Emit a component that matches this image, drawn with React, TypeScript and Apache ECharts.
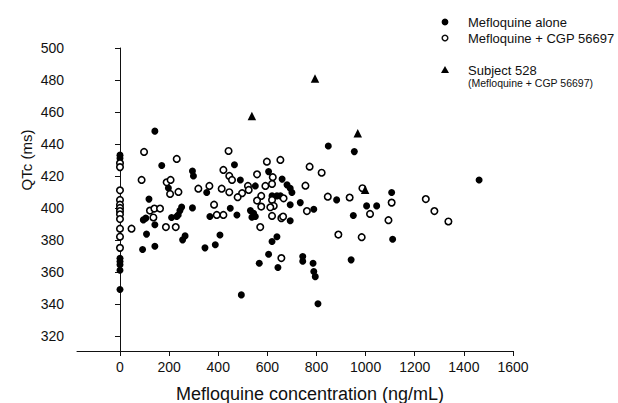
import React, { useEffect, useRef } from "react";
import * as echarts from "echarts";

const xTicks = [0, 200, 400, 600, 800, 1000, 1200, 1400, 1600];
const yTicks = [320, 340, 360, 380, 400, 420, 440, 460, 480, 500];

const mefloquineAlone: [number, number][] = [
  [0, 433], [0, 431], [0, 368.5], [0, 366.5], [0, 364.5], [0, 361], [0, 349],
  [142, 448], [170, 426.5], [295, 423], [299, 420], [197, 412.5], [353, 409.6], [118, 405.5],
  [251, 400.5], [244, 398.3], [237, 395.6], [231, 394.6], [210, 394], [295, 400], [366, 394.6],
  [95, 392.5], [105, 393.6], [142, 389.5], [108, 383.6], [265, 382.5], [255, 380], [407, 383],
  [92, 374], [142, 376], [346, 375], [388, 377],
  [466, 427], [490, 417.5], [605, 422.7], [660, 418], [680, 414.4], [693, 412.3], [700, 409.6],
  [551, 413.75], [619, 407.5], [639, 407.5], [653, 407.5], [734, 403.3], [693, 402], [789, 399.2],
  [449, 399.8], [531, 398.3], [544, 396.7], [551, 394.6], [537, 394.2], [476, 395.6], [693, 392],
  [639, 382], [619, 379], [605, 371], [567, 365.4], [643, 362.7], [744, 369.6], [744, 366.6],
  [786, 365.4], [789, 360.2], [795, 357], [494, 345.6], [806, 340],
  [848, 438.75], [954, 435.2], [882, 405], [1106, 409.6], [1004, 401.25], [1045, 401.25],
  [950, 395.2], [1110, 380.4], [941, 367.5], [1462, 417.5],
];

const mefloquineCgp: [number, number][] = [
  [0, 428], [0, 425.5], [0, 411], [0, 405], [0, 402], [0, 400], [0, 398], [0, 396], [0, 393],
  [0, 387], [0, 382], [0, 375], [47, 387],
  [98, 435], [231, 430.6], [421, 423.75], [88, 417.5], [190, 416], [206, 417.5], [204, 408.75],
  [238, 410], [319, 412], [364, 413.75], [414, 412], [122, 398.3], [140, 399.6], [163, 399.6],
  [383, 402], [394, 395.6], [421, 395.6], [136, 394], [187, 388], [227, 388],
  [442, 435.6], [598, 428.9], [653, 430], [772, 425.8], [445, 420], [456, 417.5], [558, 421],
  [622, 419.2], [755, 413.9], [445, 409.8], [521, 413.75], [524, 411.25], [497, 409.2], [479, 406.7],
  [592, 413.75], [619, 415], [575, 407.5], [558, 404.6], [666, 406], [619, 405], [626, 401.25],
  [612, 400.4], [761, 398], [575, 400.8], [619, 395], [657, 393.6], [664, 394.6], [571, 388], [657, 368.6],
  [821, 422], [987, 412.3], [846, 407], [935, 406.5], [1106, 403.3], [1018, 396.25], [1093, 392.3],
  [889, 383.3], [984, 381.7], [1245, 405.5], [1280, 398], [1337, 391.5],
];

const subject528: [number, number][] = [
  [537, 457.5], [794, 481], [968, 446.7], [998, 411.3],
];

const FONT = "'Liberation Sans', Arial, Helvetica, sans-serif";
const INK = "#111111";

export default function App() {
  const ref = useRef<HTMLDivElement>(null);

  useEffect(() => {
    if (!ref.current) return;
    const chart = echarts.init(ref.current, undefined, { renderer: "svg" });
    chart.setOption({
      animation: false,
      backgroundColor: "#ffffff",
      grid: { left: 77, right: 105, top: 48, bottom: 52, outerBoundsMode: "none" },
      xAxis: {
        type: "value",
        min: -175,
        max: 1600,
        axisLine: { show: true, lineStyle: { color: INK, width: 1 } },
        axisTick: { show: true, length: 5, customValues: xTicks, lineStyle: { color: INK } },
        axisLabel: {
          customValues: xTicks,
          formatter: (v: number) => String(v),
          color: INK,
          fontSize: 14,
          fontFamily: FONT,
          margin: 9,
        },
        splitLine: { show: false },
      },
      yAxis: {
        type: "value",
        min: 310.5,
        max: 500,
        axisLine: { show: true, lineStyle: { color: INK, width: 1 } },
        axisTick: { show: true, length: 5, customValues: yTicks, lineStyle: { color: INK } },
        axisLabel: {
          customValues: yTicks,
          formatter: (v: number) => String(v),
          color: INK,
          fontSize: 14,
          fontFamily: FONT,
          margin: 13,
        },
        splitLine: { show: false },
      },
      graphic: [
        {
          type: "text",
          x: 26,
          y: 160,
          rotation: Math.PI / 2,
          style: {
            text: "QTc (ms)",
            fill: INK,
            font: `15px ${FONT}`,
            align: "center",
            verticalAlign: "middle",
          },
        },
        {
          type: "text",
          x: 310,
          y: 394,
          style: {
            text: "Mefloquine concentration (ng/mL)",
            fill: INK,
            font: `18px ${FONT}`,
            align: "center",
            verticalAlign: "middle",
          },
        },
        { type: "circle", shape: { cx: 445, cy: 22, r: 3.4 }, style: { fill: "#000" } },
        {
          type: "text",
          x: 468,
          y: 22,
          style: { text: "Mefloquine alone", fill: INK, font: `13px ${FONT}`, verticalAlign: "middle" },
        },
        {
          type: "circle",
          shape: { cx: 445, cy: 38, r: 2.8 },
          style: { fill: "#fff", stroke: INK, lineWidth: 1.5 },
        },
        {
          type: "text",
          x: 468,
          y: 38,
          style: { text: "Mefloquine + CGP 56697", fill: INK, font: `13px ${FONT}`, verticalAlign: "middle" },
        },
        {
          type: "polygon",
          shape: { points: [[445, 66], [449, 73], [441, 73]] },
          style: { fill: "#000" },
        },
        {
          type: "text",
          x: 468,
          y: 70,
          style: { text: "Subject 528", fill: INK, font: `13px ${FONT}`, verticalAlign: "middle" },
        },
        {
          type: "text",
          x: 468,
          y: 83,
          style: { text: "(Mefloquine + CGP 56697)", fill: INK, font: `10.5px ${FONT}`, verticalAlign: "middle" },
        },
      ],
      series: [
        {
          name: "Mefloquine alone",
          type: "scatter",
          data: mefloquineAlone,
          symbol: "circle",
          symbolSize: 7,
          itemStyle: { color: "#000", opacity: 1 },
        },
        {
          name: "Mefloquine + CGP 56697",
          type: "scatter",
          data: mefloquineCgp,
          symbol: "circle",
          symbolSize: 6.5,
          itemStyle: { color: "#ffffff", borderColor: "#000", borderWidth: 1.6, opacity: 1 },
        },
        {
          name: "Subject 528",
          type: "scatter",
          data: subject528,
          symbol: "triangle",
          symbolSize: 8.5,
          itemStyle: { color: "#000", opacity: 1 },
        },
      ],
    });
    return () => chart.dispose();
  }, []);

  return (
    <div
      ref={ref}
      style={{ position: "fixed", left: 0, top: 0, width: 618, height: 403, background: "#fff" }}
    />
  );
}
